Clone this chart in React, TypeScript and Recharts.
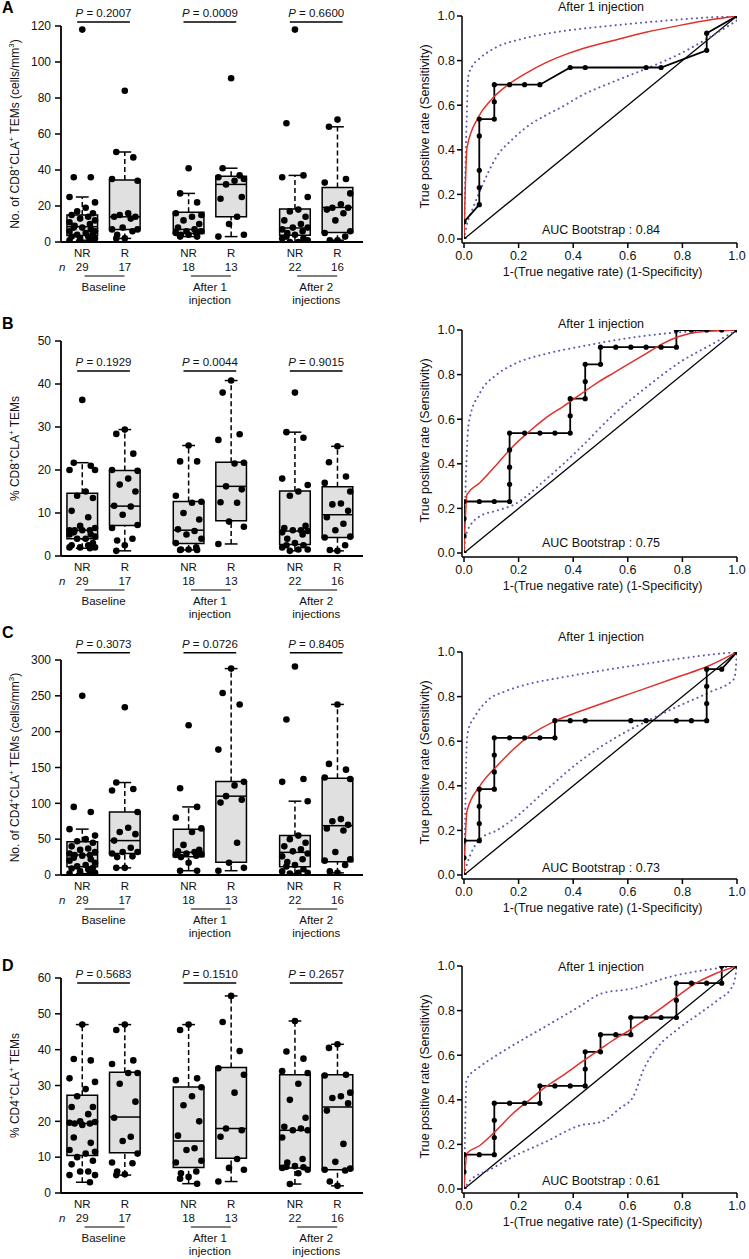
import { ComposedChart, Line, Scatter, XAxis, YAxis, ReferenceArea, ReferenceLine } from "recharts";

const FONT = '"Liberation Sans", Arial, Helvetica, sans-serif';
const INK = "#111";

// shared box-plot layout data
const GROUP_POS = [1, 2, 3.5, 4.5, 6, 7];
const ARMS = ["NR", "R", "NR", "R", "NR", "R"];
const N_PER_GROUP = [29, 17, 18, 13, 22, 16];
const TIME_POS = [1.5, 4, 6.5];
const TIME_LABELS = [["Baseline"], ["After 1", "injection"], ["After 2", "injections"]];
const JITTER = [0, -0.2, 0.2, -0.3, 0.3, 0.08, -0.12, 0.25, -0.25, 0.14, -0.05, 0.3, -0.3, 0.18, -0.18];

// A: No. of CD8+CLA+ TEMs
const CD8_COUNT_TICKS = [0, 20, 40, 60, 80, 100, 120];
const CD8_COUNT_P = ["0.2007", "0.0009", "0.6600"];
const CD8_COUNT_DOTS = [
  [118, 36, 36, 25, 22, 19, 17, 16, 15, 14, 13, 12, 11, 10, 9, 8, 8, 7, 6, 6, 5, 4, 4, 3, 3, 2, 2, 1, 1],
  [84, 50, 47, 35, 34, 16, 15, 14, 14, 13, 8, 7, 7, 6, 4, 2, 2],
  [41, 27, 22, 16, 15, 14, 12, 10, 8, 7, 6, 6, 5, 5, 4, 4, 3, 3],
  [91, 41, 37, 36, 35, 34, 32, 25, 24, 14, 10, 4, 3],
  [118, 66, 37, 36, 25, 18, 17, 14, 12, 10, 8, 8, 7, 6, 5, 4, 3, 2, 2, 1, 0, 0],
  [68, 64, 35, 33, 27, 21, 19, 19, 18, 16, 12, 6, 5, 3, 1, 1],
];
// [whisker low, q1, median, q3, whisker high]
const CD8_COUNT_BOX = [
  [1, 3.6, 8.5, 15, 25], [2, 7, 14, 34.5, 50], [3, 4.7, 7, 16.5, 27],
  [3, 14, 32, 36.5, 41], [0, 3.8, 7.8, 18.3, 37], [1, 5.3, 19.2, 30.3, 64],
];

// B: % CD8+CLA+ TEMs
const CD8_PCT_TICKS = [0, 10, 20, 30, 40, 50];
const CD8_PCT_P = ["0.1929", "0.0044", "0.9015"];
const CD8_PCT_DOTS = [
  [36.3, 21.7, 21, 20, 20, 15, 14, 13.5, 10.5, 9, 7, 6.5, 6, 6, 6, 6, 5.5, 5, 5, 4.5, 4, 4, 3, 2.5, 2.5, 2, 2, 2, 1.8],
  [29.4, 28.4, 23.8, 20, 19.8, 18, 16.6, 15, 11.7, 11.5, 9.6, 7.2, 6.5, 4, 3.6, 2.5, 1.2],
  [25.7, 22, 22, 14, 12.6, 12.4, 10, 8.5, 6.2, 5.8, 5, 4, 3, 2, 1.5, 1.5, 1.4, 1.4],
  [40.8, 38, 28.3, 27, 21.7, 21.5, 16.2, 15.5, 12.5, 12.4, 8, 6.8, 2.8],
  [38, 28.8, 27.5, 18, 16.5, 15, 14, 7, 6.5, 6, 6, 5.8, 5.5, 5, 4, 3, 2.5, 2.5, 2, 1.5, 1.5, 1.2],
  [25.5, 21.8, 18.5, 17, 15, 12.2, 12, 10.5, 9, 7.5, 6, 4.5, 4.3, 2.5, 1.4, 1.2],
];
const CD8_PCT_BOX = [
  [1.8, 4, 6, 14.6, 21.7], [1.2, 7.1, 11.6, 19.9, 29.4], [1.4, 2.9, 6, 12.7, 25.7],
  [2.8, 8.2, 16.2, 21.8, 40.8], [1.2, 2.7, 5.8, 15.1, 28.8], [1.2, 4.3, 9.6, 16.1, 25.5],
];

// C: No. of CD4+CLA+ TEMs
const CD4_COUNT_TICKS = [0, 50, 100, 150, 200, 250, 300];
const CD4_COUNT_P = ["0.3073", "0.0726", "0.8405"];
const CD4_COUNT_DOTS = [
  [250, 95, 88, 64, 55, 50, 47, 45, 40, 37, 35, 32, 30, 28, 28, 27, 24, 22, 20, 17, 14, 12, 10, 9, 8, 5, 3, 2, 2],
  [234, 129, 120, 118, 88, 66, 60, 57, 48, 38, 32, 32, 30, 26, 25, 10, 10],
  [209, 121, 95, 80, 65, 60, 42, 35, 33, 32, 30, 29, 28, 27, 25, 17, 6, 6],
  [288, 254, 238, 175, 130, 125, 110, 105, 101, 45, 17, 10, 6],
  [291, 217, 134, 130, 103, 55, 50, 45, 40, 36, 33, 30, 26, 22, 18, 14, 12, 8, 5, 3, 3, 2],
  [238, 155, 147, 136, 134, 78, 75, 70, 65, 62, 32, 22, 20, 14, 5, 3],
];
const CD4_COUNT_BOX = [
  [2, 11.6, 28, 46.5, 64], [10, 30, 48, 88, 129], [6, 25.6, 31.6, 64, 95],
  [6, 17.7, 110, 130.5, 288], [2, 11.6, 31.6, 55, 103], [3, 18.6, 68.8, 135, 238],
];

// D: % CD4+CLA+ TEMs
const CD4_PCT_TICKS = [0, 10, 20, 30, 40, 50, 60];
const CD4_PCT_P = ["0.5683", "0.1510", "0.2657"];
const CD4_PCT_DOTS = [
  [47, 37.4, 37, 32, 31, 29, 27, 24, 24, 22, 20, 19.8, 19.6, 19.4, 19.4, 19, 15.5, 14, 12, 11.5, 11, 10, 9, 8, 6, 6, 5, 5, 3],
  [47, 45.5, 37, 36, 33.5, 33.5, 30.5, 25.5, 21, 15.7, 14.5, 11, 8.5, 8.3, 6, 5.2, 5],
  [47, 45.5, 32, 31.5, 29.5, 27, 24.5, 20, 16, 12.5, 12, 9, 8.5, 6, 5.5, 4.5, 4, 2.6],
  [55, 47.7, 39.6, 34.8, 33, 28, 18, 17.5, 15.7, 9.5, 7, 6.5, 3.2],
  [48, 39.5, 37.5, 34, 33.5, 30.5, 26, 21, 18.5, 18, 17.5, 17.5, 15.5, 9.5, 8.5, 7.5, 7.3, 7.2, 7, 6.5, 5.5, 2.5],
  [41.5, 40.5, 33, 32.8, 28, 27, 26.5, 25, 23, 13.7, 8.7, 6.8, 6.5, 6.3, 3.2, 2],
];
const CD4_PCT_BOX = [
  [3, 10.5, 19.4, 27.3, 47], [5, 11.2, 21.2, 33.7, 47], [2.6, 7.1, 14.5, 29.6, 47],
  [3.2, 9.7, 18, 35, 55], [2.5, 7, 17.5, 33, 48], [2, 6.5, 24, 33, 41.5],
];

// ROC curves, after 1 injection: [1-specificity, sensitivity]
const ROC_TICKS = [0, 0.2, 0.4, 0.6, 0.8, 1];
const DIAGONAL = [[0, 0], [1, 1]];

const ROC_A_EMP = [[0, 0], [0, 0.077], [0.056, 0.154], [0.056, 0.231], [0.056, 0.308], [0.056, 0.462], [0.056, 0.538], [0.111, 0.538], [0.111, 0.615], [0.111, 0.692], [0.167, 0.692], [0.222, 0.692], [0.278, 0.692], [0.389, 0.769], [0.444, 0.769], [0.667, 0.769], [0.722, 0.769], [0.889, 0.846], [0.889, 0.923], [1, 1]];
const ROC_A_SMOOTH = [[0, 0], [0.011, 0.41], [0.052, 0.545], [0.1, 0.625], [0.162, 0.692], [0.23, 0.745], [0.302, 0.792], [0.37, 0.827], [0.425, 0.85], [0.547, 0.89], [0.67, 0.928], [0.79, 0.958], [0.914, 0.985], [1, 1]];
const ROC_A_UPPER = [[0, 0], [0.005, 0.3], [0.01, 0.55], [0.016, 0.73], [0.03, 0.775], [0.052, 0.804], [0.114, 0.857], [0.211, 0.897], [0.333, 0.927], [0.5, 0.952], [0.67, 0.972], [0.85, 0.99], [1, 1]];
const ROC_A_LOWER = [[0, 0], [0.01, 0.06], [0.033, 0.14], [0.06, 0.22], [0.12, 0.37], [0.18, 0.45], [0.25, 0.52], [0.3, 0.555], [0.37, 0.6], [0.425, 0.64], [0.547, 0.705], [0.67, 0.765], [0.79, 0.83], [0.914, 0.915], [1, 0.98]];

const ROC_B_EMP = [[0, 0], [0, 0.077], [0, 0.154], [0, 0.231], [0.056, 0.231], [0.111, 0.231], [0.167, 0.231], [0.167, 0.308], [0.167, 0.385], [0.167, 0.462], [0.167, 0.538], [0.222, 0.538], [0.278, 0.538], [0.333, 0.538], [0.389, 0.538], [0.389, 0.615], [0.389, 0.692], [0.444, 0.692], [0.444, 0.769], [0.444, 0.846], [0.5, 0.846], [0.5, 0.923], [0.556, 0.923], [0.611, 0.923], [0.667, 0.923], [0.722, 0.923], [0.778, 0.923], [0.778, 1], [0.833, 1], [0.889, 1], [0.944, 1], [1, 1]];
const ROC_B_SMOOTH = [[0, 0], [0.011, 0.263], [0.058, 0.315], [0.12, 0.397], [0.18, 0.479], [0.24, 0.546], [0.3, 0.606], [0.364, 0.658], [0.425, 0.71], [0.486, 0.762], [0.547, 0.807], [0.608, 0.851], [0.67, 0.896], [0.73, 0.94], [0.79, 0.972], [0.853, 0.99], [1, 1]];
const ROC_B_UPPER = [[0, 0], [0.006, 0.3], [0.012, 0.5], [0.02, 0.6], [0.058, 0.717], [0.12, 0.8], [0.18, 0.845], [0.3, 0.893], [0.425, 0.925], [0.547, 0.953], [0.67, 0.975], [0.79, 0.99], [1, 1]];
const ROC_B_LOWER = [[0, 0], [0.009, 0.09], [0.058, 0.165], [0.12, 0.19], [0.18, 0.215], [0.3, 0.33], [0.425, 0.47], [0.547, 0.62], [0.67, 0.745], [0.79, 0.855], [0.914, 0.94], [1, 1]];

const ROC_C_EMP = [[0, 0], [0, 0.077], [0, 0.154], [0.056, 0.154], [0.056, 0.231], [0.056, 0.308], [0.056, 0.385], [0.111, 0.385], [0.111, 0.462], [0.111, 0.538], [0.111, 0.615], [0.167, 0.615], [0.222, 0.615], [0.278, 0.615], [0.333, 0.615], [0.333, 0.692], [0.389, 0.692], [0.444, 0.692], [0.611, 0.692], [0.667, 0.692], [0.778, 0.692], [0.833, 0.692], [0.889, 0.692], [0.889, 0.769], [0.889, 0.846], [0.889, 0.923], [0.944, 0.923], [1, 1]];
const ROC_C_SMOOTH = [[0, 0], [0.011, 0.287], [0.058, 0.399], [0.12, 0.488], [0.18, 0.563], [0.24, 0.625], [0.333, 0.69], [0.425, 0.734], [0.547, 0.787], [0.67, 0.839], [0.79, 0.891], [0.893, 0.936], [1, 1]];
const ROC_C_UPPER = [[0, 0], [0.005, 0.3], [0.01, 0.59], [0.016, 0.652], [0.04, 0.711], [0.089, 0.786], [0.15, 0.823], [0.248, 0.86], [0.345, 0.883], [0.547, 0.925], [0.67, 0.948], [0.79, 0.97], [0.914, 0.99], [1, 1]];
const ROC_C_LOWER = [[0, 0], [0.009, 0.04], [0.058, 0.16], [0.12, 0.2], [0.18, 0.25], [0.3, 0.38], [0.425, 0.51], [0.547, 0.61], [0.67, 0.69], [0.79, 0.76], [0.9, 0.82], [0.99, 0.88], [1, 1]];

const ROC_D_EMP = [[0, 0], [0, 0.077], [0, 0.154], [0.056, 0.154], [0.111, 0.154], [0.111, 0.231], [0.111, 0.308], [0.111, 0.385], [0.167, 0.385], [0.222, 0.385], [0.278, 0.385], [0.278, 0.462], [0.333, 0.462], [0.389, 0.462], [0.444, 0.462], [0.444, 0.538], [0.444, 0.615], [0.5, 0.615], [0.5, 0.692], [0.556, 0.692], [0.611, 0.692], [0.611, 0.769], [0.667, 0.769], [0.722, 0.769], [0.778, 0.769], [0.778, 0.846], [0.778, 0.923], [0.833, 0.923], [0.889, 0.923], [0.944, 0.923], [0.944, 1], [1, 1]];
const ROC_D_SMOOTH = [[0, 0], [0.011, 0.16], [0.058, 0.195], [0.12, 0.265], [0.18, 0.34], [0.24, 0.4], [0.3, 0.459], [0.364, 0.511], [0.425, 0.564], [0.486, 0.616], [0.547, 0.668], [0.608, 0.713], [0.67, 0.765], [0.73, 0.818], [0.79, 0.872], [0.853, 0.925], [0.914, 0.962], [1, 1]];
const ROC_D_UPPER = [[0, 0], [0.004, 0.25], [0.009, 0.49], [0.06, 0.55], [0.12, 0.6], [0.18, 0.645], [0.3, 0.73], [0.425, 0.82], [0.5, 0.875], [0.62, 0.9], [0.75, 0.95], [0.9, 0.985], [1, 1]];
const ROC_D_LOWER = [[0, 0], [0.02, 0.035], [0.1, 0.09], [0.18, 0.145], [0.3, 0.212], [0.425, 0.285], [0.504, 0.302], [0.571, 0.362], [0.62, 0.414], [0.657, 0.534], [0.706, 0.631], [0.779, 0.713], [0.864, 0.788], [0.938, 0.855], [0.974, 0.892], [0.99, 0.93], [1, 1]];

const BOX_HALF = 0.36;
const CAP_HALF = 0.15;

// "CD8^+" -> superscript tspans
function supSpans(s: string) {
  const parts = s.split(/(\^.)/).filter((p) => p !== "");
  let shift = 0;
  return parts.map((p, i) => {
    if (p.startsWith("^")) {
      shift = 4.5;
      return <tspan key={i} dy={-4.5} fontSize={8}>{p[1]}</tspan>;
    }
    const dy = shift;
    shift = 0;
    return <tspan key={i} dy={dy}>{p}</tspan>;
  });
}

function ArmTick(props: any) {
  const { x, y, payload } = props;
  const i = GROUP_POS.indexOf(payload.value);
  return (
    <g fontSize={11.5} fill={INK}>
      <text x={x} y={y + 15} textAnchor="middle">{ARMS[i]}</text>
      <text x={x} y={y + 29} textAnchor="middle">{N_PER_GROUP[i]}</text>
      {i === 0 && <text x={x - 20} y={y + 29} textAnchor="middle" fontStyle="italic">n</text>}
    </g>
  );
}

function TimeTick(props: any) {
  const { x, y, payload } = props;
  const lines = TIME_LABELS[TIME_POS.indexOf(payload.value)] ?? [];
  return (
    <g>
      <line x1={x - 19} x2={x + 21} y1={y + 4} y2={y + 4} stroke="#000" strokeWidth={1.2} />
      {lines.map((t, k) => (
        <text key={k} x={x} y={y + 19 + k * 13} textAnchor="middle" fontSize={11.5} fill={INK}>{t}</text>
      ))}
    </g>
  );
}

const box_y_label = (s: string) => (p: any) => {
  const vb = p.viewBox ?? { x: 0, y: 0, width: 0, height: 0 };
  const cx = vb.x + 15;
  const cy = vb.y + vb.height / 2;
  return (
    <text x={cx} y={cy} transform={`rotate(-90 ${cx} ${cy})`} textAnchor="middle" dominantBaseline="central" fontSize={12} fill={INK}>
      {supSpans(s)}
    </text>
  );
};

const p_label = (v: string) => (p: any) => {
  const vb = p.viewBox ?? { x: 0, y: 0, width: 0, height: 0 };
  return (
    <text x={vb.x + vb.width / 2} y={vb.y - 5} textAnchor="middle" fontSize={11.5} fill={INK}>
      <tspan fontStyle="italic">P</tspan> = {v}
    </text>
  );
};

type BoxProps = {
  plotTop: number; plotH: number; dots: number[][]; boxes: number[][];
  pvals: string[]; yTicks: number[]; bracketY: number; yLabel: string;
};

function BoxPanel({ plotTop, plotH, dots, boxes, pvals, yTicks, bracketY, yLabel }: BoxProps) {
  const W = 380, MT = 30, AX1 = 30, AX2 = 44;
  const H = MT + plotH + AX1 + AX2;
  const yMax = yTicks[yTicks.length - 1];
  const scatter = dots.flatMap((vals, g) =>
    [...vals].sort((a, b) => b - a).map((v, i) => ({ x: GROUP_POS[g] + JITTER[i % JITTER.length], y: v }))
  );
  const seg = (x1: number, y1: number, x2: number, y2: number) => [{ x: x1, y: y1 }, { x: x2, y: y2 }];
  const lines: any[] = [];
  boxes.forEach(([lo, q1, med, q3, hi], g) => {
    const c = GROUP_POS[g];
    lines.push({ k: `wu${g}`, s: seg(c, q3, c, hi), dash: "5 3" });
    lines.push({ k: `wl${g}`, s: seg(c, lo, c, q1), dash: "5 3" });
    lines.push({ k: `cu${g}`, s: seg(c - CAP_HALF, hi, c + CAP_HALF, hi) });
    lines.push({ k: `cl${g}`, s: seg(c - CAP_HALF, lo, c + CAP_HALF, lo) });
    lines.push({ k: `md${g}`, s: seg(c - BOX_HALF, med, c + BOX_HALF, med) });
  });
  return (
    <div style={{ position: "absolute", left: 0, top: plotTop - MT, width: W, height: H }}>
      <ComposedChart width={W} height={H} margin={{ top: MT, right: 17, bottom: 0, left: 0 }}>
        <XAxis xAxisId="b2" type="number" dataKey="x" domain={[0.5, 7.6]} ticks={TIME_POS} interval={0}
          height={AX2} tickSize={0} tickMargin={0} tickLine={false} axisLine={false} tick={<TimeTick />} allowDataOverflow />
        <XAxis xAxisId="a1" type="number" dataKey="x" domain={[0.5, 7.6]} ticks={GROUP_POS} interval={0}
          height={AX1} tickSize={0} tickMargin={0} tickLine={false} tick={<ArmTick />}
          axisLine={{ stroke: "#000", strokeWidth: 1.8 }} allowDataOverflow />
        <YAxis type="number" dataKey="y" domain={[0, yMax]} ticks={yTicks} interval={0} width={61}
          tickSize={6} tickMargin={4} tick={{ fontSize: 12, fill: INK }}
          axisLine={{ stroke: "#000", strokeWidth: 1.8 }} tickLine={{ stroke: "#000", strokeWidth: 1.5 }}
          label={box_y_label(yLabel)} allowDataOverflow />
        {boxes.map(([, q1, , q3], g) => (
          <ReferenceArea key={`b${g}`} xAxisId="a1" x1={GROUP_POS[g] - BOX_HALF} x2={GROUP_POS[g] + BOX_HALF}
            y1={q1} y2={q3} fill="#e0e0e0" fillOpacity={1} stroke="#000" strokeWidth={1.5} ifOverflow="visible" />
        ))}
        {lines.map((l) => (
          <ReferenceLine key={l.k} xAxisId="a1" segment={l.s} stroke="#000" strokeWidth={1.5}
            strokeDasharray={l.dash} ifOverflow="visible" />
        ))}
        {TIME_POS.map((c, t) => (
          <ReferenceLine key={`p${t}`} xAxisId="a1" segment={seg(c - 0.62, bracketY, c + 0.62, bracketY)}
            stroke="#000" strokeWidth={1.5} ifOverflow="visible" label={p_label(pvals[t])} />
        ))}
        <Scatter xAxisId="a1" data={scatter} dataKey="y" isAnimationActive={false}
          shape={(p: any) => <circle cx={p.cx} cy={p.cy} r={3.3} fill="#000" />} />
      </ComposedChart>
    </div>
  );
}

const roc_x_label = (p: any) => {
  const vb = p.viewBox ?? { x: 0, y: 0, width: 0, height: 0 };
  return (
    <text x={vb.x + vb.width / 2 + 3} y={vb.y + 33} textAnchor="middle" fontSize={12.5} fill={INK}>
      1-(True negative rate) (1-Specificity)
    </text>
  );
};

const roc_y_label = (p: any) => {
  const vb = p.viewBox ?? { x: 0, y: 0, width: 0, height: 0 };
  const cx = vb.x + 45;
  const cy = vb.y + vb.height / 2 - 3;
  return (
    <text x={cx} y={cy} transform={`rotate(-90 ${cx} ${cy})`} textAnchor="middle" dominantBaseline="central" fontSize={12.5} fill={INK}>
      True positive rate (Sensitivity)
    </text>
  );
};

type RocProps = {
  plotTop: number; emp: number[][]; smooth: number[][]; upper: number[][]; lower: number[][];
  auc: string; titleY: number; aucY: number;
};

function RocPanel({ plotTop, emp, smooth, upper, lower, auc, titleY, aucY }: RocProps) {
  const W = 369, MT = 25, PH = 227, AXH = 45;
  const H = MT + PH + AXH;
  const top = plotTop - MT;
  const pts = (a: number[][]) => a.map(([x, y]) => ({ x, y }));
  const dotted = { strokeWidth: 2, strokeDasharray: "0.1 5", strokeLinecap: "round" as const, stroke: "#5a5ab4" };
  const note = (y: number, text: string) => (
    <div style={{ position: "absolute", left: 121, width: 200, top: y - top - 8, lineHeight: "16px", fontSize: 12.5, textAlign: "center", color: INK }}>
      {text}
    </div>
  );
  return (
    <div style={{ position: "absolute", left: 380, top, width: W, height: H }}>
      <ComposedChart width={W} height={H} margin={{ top: MT, right: 12, bottom: 0, left: 0 }}>
        <XAxis type="number" dataKey="x" domain={[0, 1]} ticks={ROC_TICKS} interval={0} padding={{ left: 2, right: 0 }}
          height={AXH} tickSize={5} tickMargin={3} tickFormatter={(v: number) => Number(v).toFixed(1)}
          tick={{ fontSize: 12.5, fill: INK }} axisLine={{ stroke: "#000", strokeWidth: 1.5 }}
          tickLine={{ stroke: "#000", strokeWidth: 1.5 }} label={roc_x_label} allowDataOverflow />
        <YAxis type="number" dataKey="y" domain={[0, 1]} ticks={ROC_TICKS} interval={0} padding={{ top: 0, bottom: 4 }}
          width={82} tickSize={5} tickMargin={2} tickFormatter={(v: number) => Number(v).toFixed(1)}
          tick={{ fontSize: 12.5, fill: INK }} axisLine={{ stroke: "#000", strokeWidth: 1.5 }}
          tickLine={{ stroke: "#000", strokeWidth: 1.5 }} label={roc_y_label} allowDataOverflow />
        <Line data={pts(DIAGONAL)} dataKey="y" type="linear" stroke="#000" strokeWidth={1.3} dot={false} isAnimationActive={false} />
        <Line data={pts(upper)} dataKey="y" type="monotone" {...dotted} dot={false} isAnimationActive={false} />
        <Line data={pts(lower)} dataKey="y" type="monotone" {...dotted} dot={false} isAnimationActive={false} />
        <Line data={pts(emp)} dataKey="y" type="linear" stroke="#000" strokeWidth={1.8}
          dot={{ r: 2.6, fill: "#000", stroke: "#000", strokeWidth: 0 }} isAnimationActive={false} />
        <Line data={pts(smooth)} dataKey="y" type="monotone" stroke="#e0302b" strokeWidth={1.5} dot={false} isAnimationActive={false} />
      </ComposedChart>
      {note(titleY, "After 1 injection")}
      {note(aucY, `AUC Bootstrap : ${auc}`)}
    </div>
  );
}

function Letter({ ch, y }: { ch: string; y: number }) {
  return (
    <div style={{ position: "absolute", left: 2, top: y - 9, fontSize: 16, fontWeight: 700, lineHeight: "18px", color: "#000" }}>
      {ch}
    </div>
  );
}

export default function App() {
  return (
    <div style={{ position: "absolute", left: 0, top: 0, width: 749, height: 1259, background: "#fff", fontFamily: FONT, overflow: "hidden" }}>
      <BoxPanel plotTop={26} plotH={216} dots={CD8_COUNT_DOTS} boxes={CD8_COUNT_BOX} pvals={CD8_COUNT_P}
        yTicks={CD8_COUNT_TICKS} bracketY={122.2} yLabel="No. of CD8^+CLA^+ TEMs (cells/mm^3)" />
      <BoxPanel plotTop={341} plotH={215} dots={CD8_PCT_DOTS} boxes={CD8_PCT_BOX} pvals={CD8_PCT_P}
        yTicks={CD8_PCT_TICKS} bracketY={43} yLabel="% CD8^+CLA^+ TEMs" />
      <BoxPanel plotTop={660} plotH={215} dots={CD4_COUNT_DOTS} boxes={CD4_COUNT_BOX} pvals={CD4_COUNT_P}
        yTicks={CD4_COUNT_TICKS} bracketY={310} yLabel="No. of CD4^+CLA^+ TEMs (cells/mm^3)" />
      <BoxPanel plotTop={978} plotH={215} dots={CD4_PCT_DOTS} boxes={CD4_PCT_BOX} pvals={CD4_PCT_P}
        yTicks={CD4_PCT_TICKS} bracketY={58.6} yLabel="% CD4^+CLA^+ TEMs" />

      <RocPanel plotTop={16} emp={ROC_A_EMP} smooth={ROC_A_SMOOTH} upper={ROC_A_UPPER} lower={ROC_A_LOWER} auc="0.84" titleY={7} aucY={230} />
      <RocPanel plotTop={330} emp={ROC_B_EMP} smooth={ROC_B_SMOOTH} upper={ROC_B_UPPER} lower={ROC_B_LOWER} auc="0.75" titleY={324} aucY={543} />
      <RocPanel plotTop={652} emp={ROC_C_EMP} smooth={ROC_C_SMOOTH} upper={ROC_C_UPPER} lower={ROC_C_LOWER} auc="0.73" titleY={637} aucY={868} />
      <RocPanel plotTop={966} emp={ROC_D_EMP} smooth={ROC_D_SMOOTH} upper={ROC_D_UPPER} lower={ROC_D_LOWER} auc="0.61" titleY={967} aucY={1181} />

      <Letter ch="A" y={8} />
      <Letter ch="B" y={324} />
      <Letter ch="C" y={633} />
      <Letter ch="D" y={966} />
    </div>
  );
}
